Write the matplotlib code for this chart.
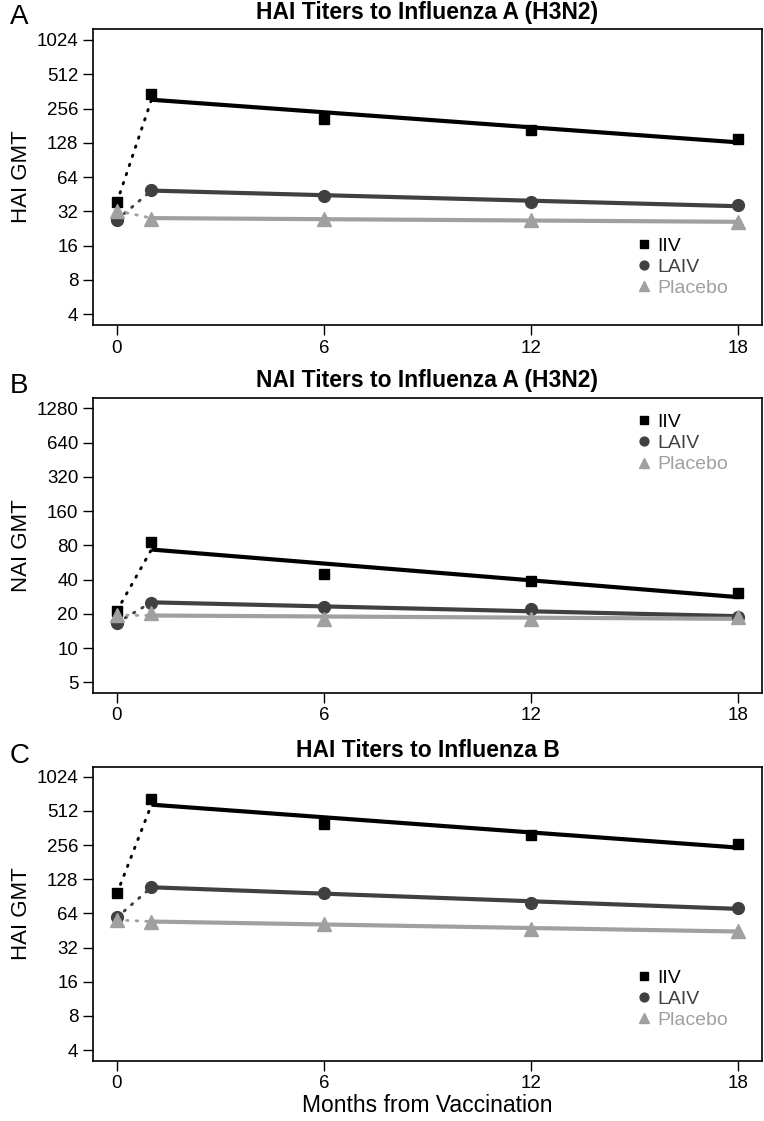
import numpy as np
import matplotlib.pyplot as plt
from matplotlib.lines import Line2D

plt.rcParams['font.family'] = ['Liberation Sans', 'DejaVu Sans']

months = [0, 1, 6, 12, 18]
groups = ['IIV', 'LAIV', 'Placebo']

# panel A: HAI titers, influenza A (H3N2)
hai_h3n2_iiv = [38.6, 342, 208, 166, 139]
hai_h3n2_laiv = [27, 49.6, 43.9, 38.6, 36.3]
hai_h3n2_placebo = [32.4, 27.6, 27.6, 27, 25.6]

# panel B: NAI titers, influenza A (H3N2)
nai_h3n2_iiv = [21.3, 86, 44.7, 38.8, 30.2]
nai_h3n2_laiv = [16.7, 25, 23.1, 22, 18.6]
nai_h3n2_placebo = [19.5, 20.4, 17.9, 17.9, 18.8]

# panel C: HAI titers, influenza B
hai_b_iiv = [96, 651, 392, 316, 261]
hai_b_laiv = [59, 110, 96, 78.4, 72]
hai_b_placebo = [56, 54, 52, 46.5, 44.7]

hai_ticks = [4, 8, 16, 32, 64, 128, 256, 512, 1024]
nai_ticks = [5, 10, 20, 40, 80, 160, 320, 640, 1280]

colors = ['#000000', '#404040', '#a0a0a0']
markers = ['s', 'o', '^']
msizes = [7.5, 8.5, 10.5]

panels = [
    ('A', 'HAI Titers to Influenza A (H3N2)', 'HAI GMT',
     [hai_h3n2_iiv, hai_h3n2_laiv, hai_h3n2_placebo], hai_ticks, (3.22, 1271),
     [0.7101, 0.2638], (0.815, 0.297)),
    ('B', 'NAI Titers to Influenza A (H3N2)', 'NAI GMT',
     [nai_h3n2_iiv, nai_h3n2_laiv, nai_h3n2_placebo], nai_ticks, (4.06, 1590),
     [0.3821, 0.2632], (0.815, 0.946)),
    ('C', 'HAI Titers to Influenza B', 'HAI GMT',
     [hai_b_iiv, hai_b_laiv, hai_b_placebo], hai_ticks, (3.22, 1240),
     [0.0538, 0.2617], (0.815, 0.311)),
]

fig = plt.figure(figsize=(7.64, 11.21), dpi=100)

for letter, title, ylabel, series, ticks, ylim, (bot, h), legpos in panels:
    ax = fig.add_axes([0.1215, bot, 0.876, h])
    ax.set_yscale('log', base=2)

    for vals, c, m, ms in zip(series, colors, markers, msizes):
        # log-linear fit over months 1-18
        k, b = np.polyfit(months[1:], np.log2(vals[1:]), 1)
        xs = np.array([months[1], months[-1]])
        ax.plot(xs, 2 ** (k * xs + b), color=c, lw=3, solid_capstyle='butt', zorder=2)
        ax.plot([months[0], months[1]], [vals[0], 2 ** (k * months[1] + b)],
                color=c, lw=2.1, ls=(0, (0.5, 2.8)), dash_capstyle='round', zorder=2)
        ax.plot(months, vals, ls='none', marker=m, ms=ms, color=c, zorder=3)

    ax.set_xlim(-0.7, 18.7)
    ax.set_ylim(*ylim)
    ax.set_xticks([0, 6, 12, 18])
    ax.set_yticks(ticks)
    ax.set_yticklabels([str(t) for t in ticks])
    ax.yaxis.set_minor_locator(plt.NullLocator())
    ax.tick_params(axis='both', labelsize=13.5, length=7, width=1, direction='out')
    for s in ax.spines.values():
        s.set_linewidth(1.2)

    ax.set_title(title, fontsize=16.5, fontweight='bold', pad=7.5)
    ax.set_ylabel(ylabel, fontsize=16)
    ax.yaxis.set_label_coords(-0.091, 0.5)
    ax.text(-0.11, 1.04, letter, transform=ax.transAxes, fontsize=20,
            ha='center', va='center')

    handles = [Line2D([], [], ls='none', marker=m, ms=ms * 0.75, color=c)
               for c, m, ms in zip(colors, markers, msizes)]
    ax.legend(handles, groups, loc='upper left', bbox_to_anchor=legpos,
              frameon=False, fontsize=14, labelcolor=colors, handlelength=0.6,
              handletextpad=0.4, labelspacing=0.18, borderpad=0, borderaxespad=0)

ax.set_xlabel('Months from Vaccination', fontsize=16.5, labelpad=1)

fig.savefig('out.png', dpi=100)
